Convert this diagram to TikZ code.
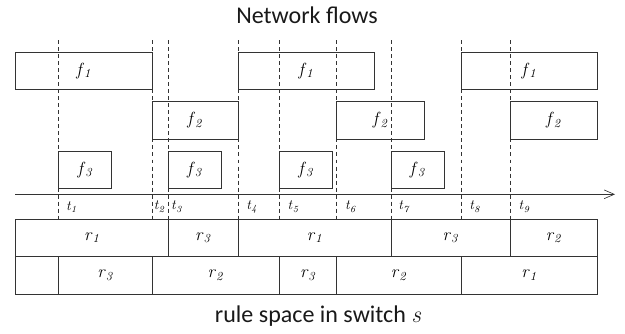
\documentclass[tikz,border=0pt]{standalone}
\usepackage{fontspec}
\newfontfamily\titlefont{Carlito}
\usetikzlibrary{arrows.meta}

\newcommand\itsub[2]{\textit{#1}\textsubscript{\textit{#2}}}

\tikzset{
  tick/.style={line width=0.5pt, dash pattern=on 3.4pt off 2.6pt},
  lbl/.style={font=\rmfamily\fontsize{15}{15}\selectfont, text=black},
  tlbl/.style={font=\rmfamily\fontsize{12}{12}\selectfont, text=black, anchor=west, inner sep=0pt},
  ttl/.style={font=\titlefont\fontsize{20.5}{24}\selectfont, text=black!90, anchor=base},
}

\begin{document}
\begin{tikzpicture}[x=0.03cm,y=-0.03cm,line width=0.55pt,color=black!80]
\useasboundingbox (0,0) rectangle (625,333);
\node[ttl] (top) at (307,23) {Network flows};
\node[ttl] (bottom) at (318,322.7) {rule space in switch {\rmfamily\itshape s}};
% time instants
\foreach \n/\x/\d in {1/58.7/7,2/152/1.5,3/168.3/2.5,4/238/8,5/279.3/8,6/336.7/8,7/391/7,8/461/8,9/510.3/8} {
    \coordinate (t\n) at (\x,40);
    \draw[tick] (t\n) -- (\x,219.3);
    \node[tlbl] (lt\n) at (\x+\d,206.7) {\itsub{t}{\n}};
}
\coordinate (axisL) at (15.3,194.3);
\coordinate (axisR) at (615,194.3);
\draw[-{Straight Barb[length=3mm,width=2.6mm]}] (axisL) -- (axisR);
% flows
\foreach \a/\b/\l [count=\i] in {15.3/152/1,238/374/1,461/597/1} {
    \draw (\a,52.3) rectangle (\b,89.3);
    \node[lbl] (fa\i) at ({(\a+\b)/2},70.8) {\itsub{f}{\l}};
}
\foreach \a/\b/\l [count=\i] in {152/238/2,336.7/424.3/2,510.3/597/2} {
    \draw (\a,101.7) rectangle (\b,139);
    \node[lbl] (fb\i) at ({(\a+\b)/2},120.3) {\itsub{f}{\l}};
}
\foreach \a/\b/\l [count=\i] in {58.7/111.7/3,168.3/221.3/3,279.3/332.7/3,391/444.3/3} {
    \draw (\a,151.3) rectangle (\b,188.3);
    \node[lbl] (fc\i) at ({(\a+\b)/2},169.8) {\itsub{f}{\l}};
}
% rule space
\foreach \a/\b/\l [count=\i] in {15.3/168.3/1,168.3/238/3,238/391/1,391/510.3/3,510.3/597/2} {
    \draw (\a,219.3) rectangle (\b,256.3);
    \node[lbl] (ra\i) at ({(\a+\b)/2},237.8) {\itsub{r}{\l}};
}
\draw (15.3,256.3) rectangle (58.7,294);
\foreach \a/\b/\l [count=\i] in {58.7/152/3,152/279.3/2,279.3/336.7/3,336.7/461/2,461/597/1} {
    \draw (\a,256.3) rectangle (\b,294);
    \node[lbl] (rb\i) at ({(\a+\b)/2},275.2) {\itsub{r}{\l}};
}
\end{tikzpicture}
\end{document}
